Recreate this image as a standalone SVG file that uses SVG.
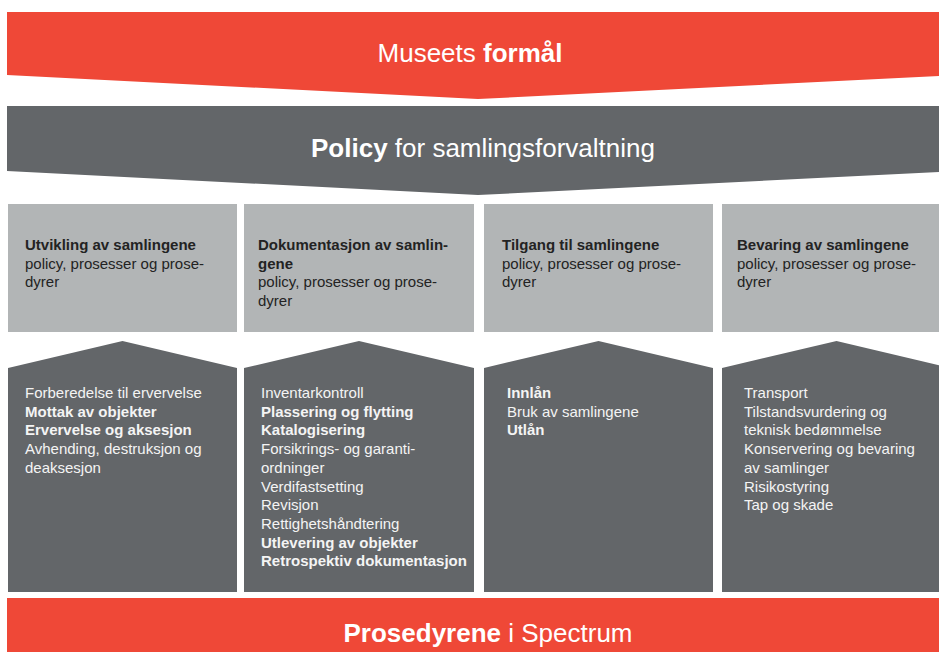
<svg xmlns="http://www.w3.org/2000/svg" width="939" height="652" viewBox="0 0 939 652">
<style>
.red{fill:#ef4837}
.dark{fill:#636669}
.light{fill:#b2b5b6}
.banner{font-family:"Liberation Sans",Arial,sans-serif;font-size:26px;fill:#ffffff}
.hd{font-family:"Liberation Sans",Arial,sans-serif;font-size:15px;fill:#232323}
.bd{font-family:"Liberation Sans",Arial,sans-serif;font-size:15px;fill:#f4f4f4}
.b{font-weight:bold}
</style>
<rect width="939" height="652" fill="#ffffff"/>
<g id="formal">
<polygon class="red" points="7,12 939,12 939,76 478,99 7,75"/>
<text class="banner" x="470" y="62" text-anchor="middle">Museets <tspan class="b">formål</tspan></text>
</g>
<g id="policy">
<polygon class="dark" points="7,106 939,106 939,172 478,195 7,171"/>
<text class="banner" x="483" y="157" text-anchor="middle"><tspan class="b">Policy</tspan> for samlingsforvaltning</text>
</g>
<g id="col1-header">
<rect class="light" x="8" y="204" width="229" height="128"/>
<text class="hd" x="25" y="250"><tspan class="b">Utvikling av samlingene</tspan><tspan x="25" dy="18.5">policy, prosesser og prose-</tspan><tspan x="25" dy="18.5">dyrer</tspan></text>
</g>
<g id="col2-header">
<rect class="light" x="244" y="204" width="230" height="128"/>
<text class="hd" x="258" y="250"><tspan class="b">Dokumentasjon av samlin-</tspan><tspan class="b" x="258" dy="18.5">gene</tspan><tspan x="258" dy="18.5">policy, prosesser og prose-</tspan><tspan x="258" dy="18.5">dyrer</tspan></text>
</g>
<g id="col3-header">
<rect class="light" x="484" y="204" width="229" height="128"/>
<text class="hd" x="502" y="250"><tspan class="b">Tilgang til samlingene</tspan><tspan x="502" dy="18.5">policy, prosesser og prose-</tspan><tspan x="502" dy="18.5">dyrer</tspan></text>
</g>
<g id="col4-header">
<rect class="light" x="722" y="204" width="229" height="128"/>
<text class="hd" x="737" y="250"><tspan class="b">Bevaring av samlingene</tspan><tspan x="737" dy="18.5">policy, prosesser og prose-</tspan><tspan x="737" dy="18.5">dyrer</tspan></text>
</g>
<g id="col1-body">
<polygon class="dark" points="8,368 122.5,341 237,368 237,592 8,592"/>
<text class="bd" x="25" y="398"><tspan>Forberedelse til ervervelse</tspan><tspan class="b" x="25" dy="18.7">Mottak av objekter</tspan><tspan class="b" x="25" dy="18.7">Ervervelse og aksesjon</tspan><tspan x="25" dy="18.7">Avhending, destruksjon og</tspan><tspan x="25" dy="18.7">deaksesjon</tspan></text>
</g>
<g id="col2-body">
<polygon class="dark" points="244,368 359,341 474,368 474,592 244,592"/>
<text class="bd" x="261" y="398"><tspan>Inventarkontroll</tspan><tspan class="b" x="261" dy="18.7">Plassering og flytting</tspan><tspan class="b" x="261" dy="18.7">Katalogisering</tspan><tspan x="261" dy="18.7">Forsikrings- og garanti-</tspan><tspan x="261" dy="18.7">ordninger</tspan><tspan x="261" dy="18.7">Verdifastsetting</tspan><tspan x="261" dy="18.7">Revisjon</tspan><tspan x="261" dy="18.7">Rettighetshåndtering</tspan><tspan class="b" x="261" dy="18.7">Utlevering av objekter</tspan><tspan class="b" x="261" dy="18.7">Retrospektiv dokumentasjon</tspan></text>
</g>
<g id="col3-body">
<polygon class="dark" points="484,368 598.5,341 713,368 713,592 484,592"/>
<text class="bd" x="507" y="398"><tspan class="b">Innlån</tspan><tspan x="507" dy="18.7">Bruk av samlingene</tspan><tspan class="b" x="507" dy="18.7">Utlån</tspan></text>
</g>
<g id="col4-body">
<polygon class="dark" points="722,368 836.5,341 951,368 951,592 722,592"/>
<text class="bd" x="744" y="398"><tspan>Transport</tspan><tspan x="744" dy="18.7">Tilstandsvurdering og</tspan><tspan x="744" dy="18.7">teknisk bedømmelse</tspan><tspan x="744" dy="18.7">Konservering og bevaring</tspan><tspan x="744" dy="18.7">av samlinger</tspan><tspan x="744" dy="18.7">Risikostyring</tspan><tspan x="744" dy="18.7">Tap og skade</tspan></text>
</g>
<g id="spectrum">
<rect class="red" x="7" y="598" width="932" height="54"/>
<text class="banner" x="488" y="642" text-anchor="middle"><tspan class="b">Prosedyrene</tspan> i Spectrum</text>
</g>
<g id="connectors"></g>
</svg>
